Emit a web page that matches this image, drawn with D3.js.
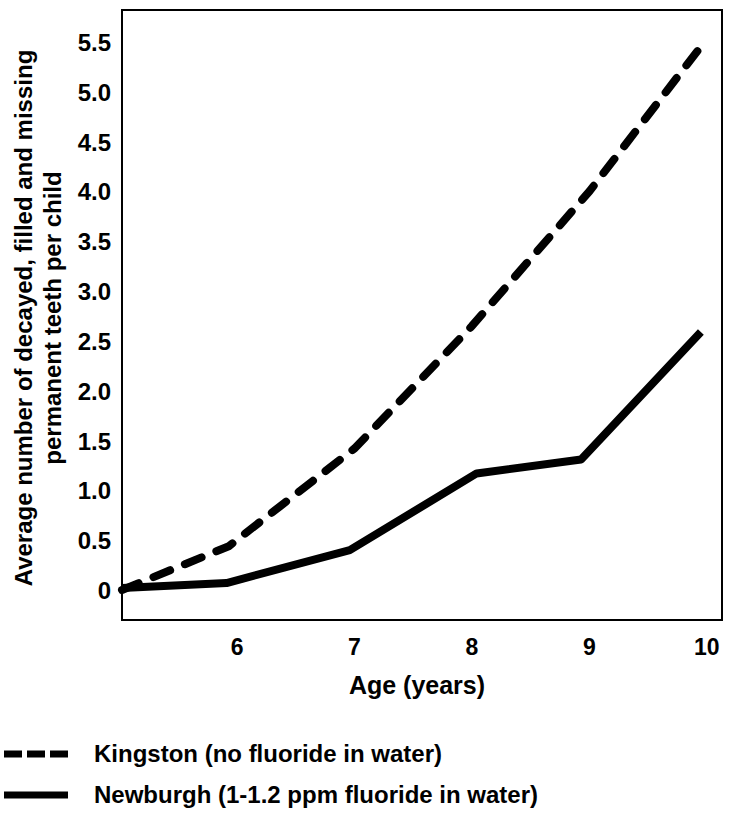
<!DOCTYPE html>
<html>
<head>
<meta charset="utf-8">
<script src="https://cdn.jsdelivr.net/npm/d3@7"></script>
<style>
  body { margin: 0; background: #fff; }
  text { font-family: "Liberation Sans", Arial, sans-serif; font-weight: bold; fill: #000; }
</style>
</head>
<body>
<div id="chart"></div>
<script>
// values
const kingstonAges = [5.02, 5.93, 7.0, 8.0, 9.0, 9.98];
const kingstonValues = [0.0, 0.44, 1.42, 2.65, 4.0, 5.5];
const newburghAges = [5.02, 5.91, 6.96, 8.04, 8.93, 9.95];
const newburghValues = [0.02, 0.07, 0.40, 1.17, 1.31, 2.59];

const xTicks = [6, 7, 8, 9, 10];
const yTicks = [0, 0.5, 1.0, 1.5, 2.0, 2.5, 3.0, 3.5, 4.0, 4.5, 5.0, 5.5];
const yTickLabels = ["0", "0.5", "1.0", "1.5", "2.0", "2.5", "3.0", "3.5", "4.0", "4.5", "5.0", "5.5"];

const legendLabels = ["Kingston (no fluoride in water)", "Newburgh (1-1.2 ppm fluoride in water)"];

const svg = d3.select("#chart")
  .append("svg")
    .attr("width", 729)
    .attr("height", 814);

const plotLeft = 122, plotRight = 722, plotTop = 10, plotBottom = 620;

const xScale = d3.scaleLinear()
  .domain([5.02, 10.13])
  .range([plotLeft, plotRight]);

const yScale = d3.scaleLinear()
  .domain([0, 5.5])
  .range([590, 42]);

// frame
svg.append("rect")
  .attr("x", plotLeft)
  .attr("y", plotTop)
  .attr("width", plotRight - plotLeft)
  .attr("height", plotBottom - plotTop)
  .attr("fill", "none")
  .attr("stroke", "#000")
  .attr("stroke-width", 2);

// y tick labels
svg.append("g")
  .selectAll("text")
  .data(yTicks)
  .join("text")
    .text((d, i) => yTickLabels[i])
    .attr("x", 111)
    .attr("y", d => yScale(d) + 9)
    .attr("text-anchor", "end")
    .style("font-size", "24px");

// x tick labels
svg.append("g")
  .selectAll("text")
  .data(xTicks)
  .join("text")
    .text(d => d)
    .attr("x", d => xScale(d))
    .attr("y", 655)
    .attr("text-anchor", "middle")
    .style("font-size", "23px");

svg.append("text")
  .text("Age (years)")
  .attr("x", 417)
  .attr("y", 694)
  .attr("text-anchor", "middle")
  .style("font-size", "25px");

// y axis title, two lines
const yTitle = svg.append("text")
  .attr("transform", "translate(32, 318) rotate(-90)")
  .attr("text-anchor", "middle")
  .style("font-size", "24px");
yTitle.append("tspan").attr("x", 0).attr("dy", 0)
  .text("Average number of decayed, filled and missing");
yTitle.append("tspan").attr("x", 0).attr("dy", 29)
  .text("permanent teeth per child");

const line = d3.line()
  .x(d => xScale(d[0]))
  .y(d => yScale(d[1]));

svg.append("path")
  .datum(newburghAges.map((a, i) => [a, newburghValues[i]]))
  .attr("d", line)
  .attr("fill", "none")
  .attr("stroke", "#000")
  .attr("stroke-width", 8)
  .attr("stroke-linejoin", "round");

svg.append("path")
  .datum(kingstonAges.map((a, i) => [a, kingstonValues[i]]))
  .attr("d", line)
  .attr("fill", "none")
  .attr("stroke", "#000")
  .attr("stroke-width", 8)
  .attr("stroke-linecap", "round")
  .attr("stroke-dasharray", "18,16");

// legend
const legend = svg.append("g");
legend.append("line")
  .attr("x1", 4).attr("x2", 68)
  .attr("y1", 754).attr("y2", 754)
  .attr("stroke", "#000")
  .attr("stroke-width", 7)
  .attr("stroke-dasharray", "18,5");
legend.append("line")
  .attr("x1", 4).attr("x2", 68)
  .attr("y1", 795).attr("y2", 795)
  .attr("stroke", "#000")
  .attr("stroke-width", 7);

legend.selectAll("text")
  .data(legendLabels)
  .join("text")
    .text(d => d)
    .attr("x", 94)
    .attr("y", (d, i) => 762 + i * 41)
    .style("font-size", "24px");
</script>
</body>
</html>
